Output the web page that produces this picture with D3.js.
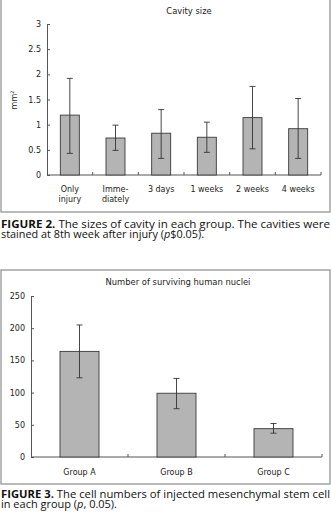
<!DOCTYPE html>
<html>
<head>
<meta charset="utf-8">
<script src="https://cdn.jsdelivr.net/npm/d3@7"></script>
<style>
  body { margin: 0; background: #fff; }
  svg { display: block; }
  .frame { fill: none; stroke: #8c8c8c; stroke-width: 1.2; }
  .axis path, .axis line { stroke: #555; }
  .axis text { fill: #222; font-family: "DejaVu Sans", sans-serif; font-size: 8px; }
  .title { font-family: "DejaVu Sans", sans-serif; font-size: 8.4px; fill: #222; text-anchor: middle; }
  .bar { fill: #b4b4b4; stroke: #3a3a3a; stroke-width: 0.9; }
  .err { stroke: #333; stroke-width: 0.9; fill: none; }
  .caption { font-family: "Open Sans", sans-serif; font-size: 11px; fill: #111; }
</style>
</head>
<body>
<svg id="chart" width="331" height="512"></svg>
<script>
// Figure 2: cavity size
const cavityGroups = ["Only\ninjury", "Imme-\ndiately", "3 days", "1 weeks", "2 weeks", "4 weeks"];
const cavityMean = [1.19, 0.735, 0.83, 0.75, 1.14, 0.92];
const cavityHigh = [1.92, 0.99, 1.30, 1.05, 1.76, 1.52];
const cavityLow = [0.43, 0.49, 0.33, 0.45, 0.52, 0.33];
const cavityTicks = [0, 0.5, 1, 1.5, 2, 2.5, 3];

// Figure 3: surviving human nuclei
const nucleiGroups = ["Group A", "Group B", "Group C"];
const nucleiMean = [164, 99, 44];
const nucleiHigh = [205, 122, 52];
const nucleiLow = [123, 75, 37];
const nucleiTicks = [0, 50, 100, 150, 200, 250];

const svg = d3.select("#chart");

function drawPanel(cfg) {
  const g = svg.append("g");
  g.append("rect").attr("class", "frame")
    .attr("x", cfg.frame[0]).attr("y", cfg.frame[1])
    .attr("width", cfg.frame[2]).attr("height", cfg.frame[3]);

  const x = d3.scaleBand().domain(cfg.groups).range(cfg.xr);
  const y = d3.scaleLinear().domain(cfg.yd).range(cfg.yr);

  // y axis, ticks pointing inward
  const ya = g.append("g").attr("class", "axis")
    .attr("transform", "translate(" + cfg.xr[0] + ",0)")
    .call(d3.axisRight(y).tickValues(cfg.ticks).tickFormat(d3.format("~g")).tickSize(3).tickSizeOuter(0));
  ya.selectAll("text").attr("x", -6).attr("text-anchor", "end");

  // x axis with boundary ticks going up
  const xa = g.append("g").attr("class", "axis")
    .attr("transform", "translate(0," + cfg.yr[0] + ")");
  xa.append("line").attr("x1", cfg.xr[0]).attr("x2", cfg.xr[1]).attr("stroke", "#555");
  xa.selectAll(".bt").data(cfg.groups).enter().append("line")
    .attr("x1", d => x(d) + x.bandwidth()).attr("x2", d => x(d) + x.bandwidth())
    .attr("y1", 0).attr("y2", -3).attr("stroke", "#555");
  const lab = xa.selectAll(".lab").data(cfg.groups).enter().append("text")
    .attr("class", "lab")
    .attr("text-anchor", "middle")
    .attr("x", d => x(d) + x.bandwidth() / 2)
    .attr("y", cfg.labelDy);
  lab.selectAll("tspan").data(d => d.split("\n")).enter().append("tspan")
    .attr("x", function() { return d3.select(this.parentNode).attr("x"); })
    .attr("dy", (d, i) => i === 0 ? 0 : 10)
    .text(d => d);

  const bw = cfg.barW;
  g.selectAll(".bar").data(cfg.mean).enter().append("rect")
    .attr("class", "bar")
    .attr("x", (d, i) => x(cfg.groups[i]) + x.bandwidth() / 2 - bw / 2)
    .attr("y", d => y(d))
    .attr("width", bw)
    .attr("height", d => y(0) - y(d));

  cfg.groups.forEach((grp, i) => {
    const cx = x(grp) + x.bandwidth() / 2;
    const yh = y(cfg.high[i]), yl = y(cfg.low[i]);
    g.append("line").attr("class", "err").attr("x1", cx).attr("x2", cx).attr("y1", yh).attr("y2", yl);
    g.append("line").attr("class", "err").attr("x1", cx - 3).attr("x2", cx + 3).attr("y1", yh).attr("y2", yh);
    g.append("line").attr("class", "err").attr("x1", cx - 3).attr("x2", cx + 3).attr("y1", yl).attr("y2", yl);
  });

  g.append("text").attr("class", "title").attr("x", cfg.titleX).attr("y", cfg.titleY).text(cfg.title);
  return g;
}

const p1 = drawPanel({
  frame: [1, -5, 329, 217],
  groups: cavityGroups, mean: cavityMean, high: cavityHigh, low: cavityLow,
  ticks: cavityTicks, yd: [0, 3], xr: [47, 321], yr: [175, 24],
  barW: 19, labelDy: 17, title: "Cavity size", titleX: 189, titleY: 14
});
p1.append("text")
  .attr("transform", "translate(17,100) rotate(-90)")
  .attr("text-anchor", "middle")
  .style("font-family", "DejaVu Sans, sans-serif").style("font-size", "8px").style("fill", "#222")
  .html('mm<tspan dy="-3" font-size="5px">2</tspan>');

drawPanel({
  frame: [1, 270, 329, 214],
  groups: nucleiGroups, mean: nucleiMean, high: nucleiHigh, low: nucleiLow,
  ticks: nucleiTicks, yd: [0, 250], xr: [31, 322], yr: [457, 296],
  barW: 39, labelDy: 18, title: "Number of surviving human nuclei", titleX: 178, titleY: 285
});

// captions, squeezed to the widths measured on the figure
function caption(y, bold, rest, line2, w2) {
  const t = svg.append("text").attr("class", "caption").attr("x", 1).attr("y", y)
    .attr("textLength", 329).attr("lengthAdjust", "spacingAndGlyphs");
  t.append("tspan").attr("font-weight", "bold").text(bold);
  t.append("tspan").text(rest);
  const t2 = svg.append("text").attr("class", "caption").attr("x", 1).attr("y", y + 10.5)
    .attr("textLength", w2).attr("lengthAdjust", "spacingAndGlyphs");
  line2.forEach(s => {
    const sp = t2.append("tspan").text(s.t);
    if (s.i) sp.attr("font-style", "italic");
  });
}
caption(227.5, "FIGURE 2.", " The sizes of cavity in each group. The cavities were",
  [{t: "stained at 8th week after injury ("}, {t: "p", i: true}, {t: "$0.05)."}], 203);
caption(497.5, "FIGURE 3.", " The cell numbers of injected mesenchymal stem cell",
  [{t: "in each group ("}, {t: "p", i: true}, {t: ", 0.05)."}], 116);
</script>
</body>
</html>
